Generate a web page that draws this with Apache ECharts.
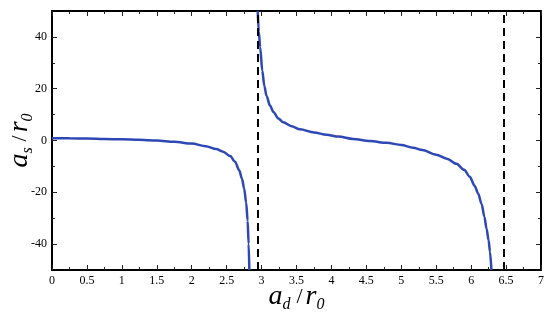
<!DOCTYPE html>
<html>
<head>
<meta charset="utf-8">
<script src="https://cdn.jsdelivr.net/npm/echarts@6/dist/echarts.min.js"></script>
<style>
  html, body { margin: 0; padding: 0; background: #fff; }
  #chart { width: 550px; height: 318px; }
</style>
</head>
<body>
<div id="chart"></div>
<script>
// left branch (below the first pole)
const leftX = [0, 0.25, 0.5, 0.75, 1.0, 1.25, 1.5, 1.75, 2.0, 2.2, 2.35, 2.45, 2.55, 2.62, 2.68, 2.72, 2.75, 2.78, 2.8, 2.815, 2.825];
const leftY = [0.9, 0.85, 0.75, 0.6, 0.45, 0.25, 0.0, -0.5, -1.2, -2.2, -3.3, -4.3, -6.0, -8.2, -11.5, -14.8, -18.5, -24, -31, -40, -50];

// right branch (between the two poles)
const rightX = [2.945, 2.96, 2.98, 3.01, 3.04, 3.07, 3.12, 3.17, 3.24, 3.31, 3.43, 3.55, 3.75, 3.93, 4.1, 4.31, 4.55, 4.79, 5.0, 5.17, 5.3, 5.5, 5.65, 5.79, 5.9, 5.98, 6.05, 6.1, 6.15, 6.19, 6.22, 6.25, 6.27, 6.29];
const rightY = [50, 42, 36, 27, 21, 17.3, 13.5, 11, 8.5, 7.0, 5.5, 4.3, 3.1, 2.2, 1.5, 0.6, -0.2, -0.9, -1.7, -2.8, -3.7, -5.5, -7, -9, -11.3, -14, -17.5, -20.5, -24.5, -29.5, -34, -38.5, -43, -50];

// dashed vertical lines
const poles = [2.94, 6.47];

// y ticks
const yMajor = [-40, -20, 0, 20, 40];
const yMinor = [-30, -10, 10, 30];

const serif = "'Liberation Serif', 'DejaVu Serif', serif";
const rich = {
  a: { fontSize: 28, fontStyle: "italic", fontFamily: serif, color: "#000", lineHeight: 32 },
  sub: { fontSize: 16, fontStyle: "italic", fontFamily: serif, color: "#000", lineHeight: 12, verticalAlign: "bottom" },
  sl: { fontSize: 22, fontFamily: serif, color: "#000", padding: [0, 3, 0, 6], lineHeight: 32 },
};

const pairs = (xs, ys) => xs.map((x, i) => [x, ys[i]]);

const chart = echarts.init(document.getElementById("chart"));

const tickStyle = { color: "#222", width: 1 };
const frame = { show: true, onZero: false, lineStyle: { color: "#000", width: 2 } };
const noLine = { show: false, onZero: false };

chart.setOption({
  animation: false,
  backgroundColor: "#fff",
  grid: { left: 52, right: 9, top: 11, bottom: 48, containLabel: false, outerBoundsMode: "none" },
  xAxis: [
    {
      type: "value",
      min: 0,
      max: 7,
      interval: 0.5,
      axisLine: frame,
      axisTick: { show: true, inside: true, length: 5, lineStyle: tickStyle },
      minorTick: { show: true, splitNumber: 2, length: 3, lineStyle: tickStyle },
      splitLine: { show: false },
      axisLabel: { color: "#000", fontFamily: serif, fontSize: 12, margin: 5 },
      name: "{a|a}{sub|d}{sl|/}{a|r}{sub|0}",
      nameLocation: "middle",
      nameGap: 11,
      nameMoveOverlap: false,
      nameTextStyle: { rich },
    },
    {
      type: "value",
      position: "top",
      min: 0,
      max: 7,
      interval: 0.5,
      axisLine: frame,
      axisTick: { show: true, inside: true, length: 5, lineStyle: tickStyle },
      minorTick: { show: true, splitNumber: 2, length: 3, lineStyle: tickStyle },
      splitLine: { show: false },
      axisLabel: { show: false },
    },
  ],
  yAxis: [
    {
      type: "value",
      min: -50,
      max: 50,
      axisLine: frame,
      axisTick: { show: true, inside: true, length: 5, lineStyle: tickStyle, customValues: yMajor },
      splitLine: { show: false },
      axisLabel: { color: "#000", fontFamily: serif, fontSize: 12, margin: 5, customValues: yMajor },
      name: "{a|a}{sub|s}{sl|/}{a|r}{sub|0}",
      nameLocation: "middle",
      nameRotate: 90,
      nameGap: 16,
      nameMoveOverlap: false,
      nameTextStyle: { rich },
    },
    {
      type: "value",
      position: "right",
      min: -50,
      max: 50,
      axisLine: frame,
      axisTick: { show: true, inside: true, length: 5, lineStyle: tickStyle, customValues: yMajor },
      splitLine: { show: false },
      axisLabel: { show: false },
    },
    {
      type: "value",
      position: "left",
      offset: 0,
      min: -50,
      max: 50,
      axisLine: noLine,
      axisTick: { show: true, inside: true, length: 3, lineStyle: tickStyle, customValues: yMinor },
      splitLine: { show: false },
      axisLabel: { show: false },
    },
    {
      type: "value",
      position: "right",
      offset: 0,
      min: -50,
      max: 50,
      axisLine: noLine,
      axisTick: { show: true, inside: true, length: 3, lineStyle: tickStyle, customValues: yMinor },
      splitLine: { show: false },
      axisLabel: { show: false },
    },
  ],
  series: [
    {
      type: "line",
      data: pairs(leftX, leftY),
      showSymbol: false,
      smooth: 0.3,
      smoothMonotone: "x",
      lineStyle: { color: "#2d47b4", width: 2.5 },
      markLine: {
        silent: true,
        symbol: "none",
        label: { show: false },
        lineStyle: { color: "#000", width: 2, type: [8, 5] },
        data: poles.map((p) => ({ xAxis: p })),
      },
    },
    {
      type: "line",
      data: pairs(rightX, rightY),
      showSymbol: false,
      smooth: 0.3,
      smoothMonotone: "x",
      lineStyle: { color: "#2d47b4", width: 2.5 },
    },
  ],
});
</script>
</body>
</html>
